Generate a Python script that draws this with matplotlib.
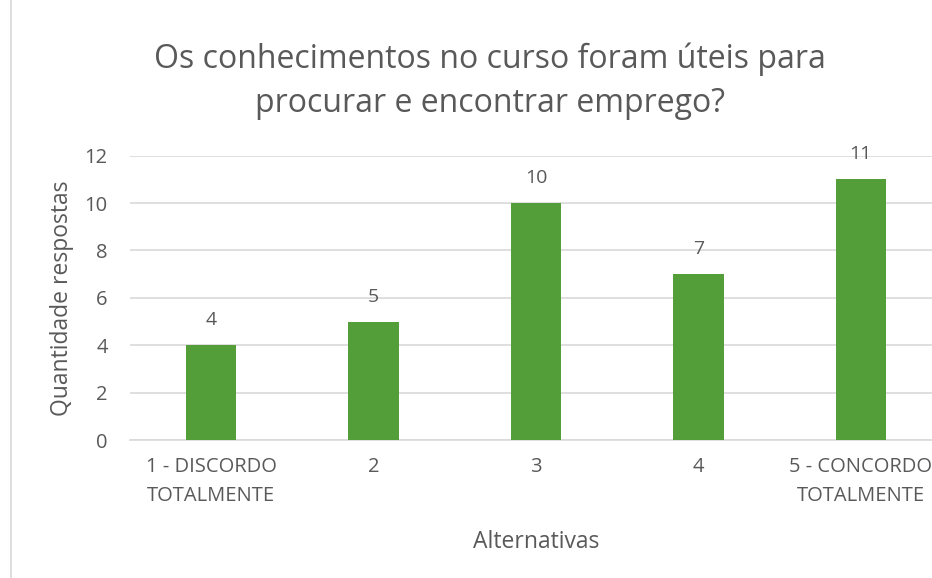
import matplotlib.pyplot as plt
from matplotlib.lines import Line2D

categories = ['1 - DISCORDO\nTOTALMENTE', '2', '3', '4', '5 - CONCORDO\nTOTALMENTE']
respostas = [4, 5, 10, 7, 11]
yticks = [0, 2, 4, 6, 8, 10, 12]

plt.rcParams['font.family'] = ['Open Sans', 'DejaVu Sans']
grey = '#595959'

W, H = 932, 578
fig = plt.figure(figsize=(W / 100, H / 100), dpi=100)
# plot area runs past the right edge, as in the cropped original
ax = fig.add_axes([130 / W, 1 - 440 / H, 812 / W, (440 - 155.7) / H])

x = range(len(categories))
ax.bar(x, respostas, width=0.31, color='#549E39', zorder=3)
for xi, v in zip(x, respostas):
    ax.annotate(str(v), (xi, v), xytext=(0, 18), textcoords='offset points',
                ha='center', va='center', fontsize=14, color=grey)

ax.set_xlim(-0.5, len(categories) - 0.5)
ax.set_ylim(0, 12)
ax.set_yticks(yticks)
ax.set_xticks(list(x))
ax.set_xticklabels(categories, fontsize=14.5, color=grey, linespacing=1.65)
ax.tick_params(axis='y', labelsize=14.5, labelcolor=grey, length=0, pad=16)
ax.tick_params(axis='x', length=0, pad=12)
ax.grid(axis='y', color='#D9D9D9', linewidth=1.2, zorder=0)
for s in ['top', 'right', 'left']:
    ax.spines[s].set_visible(False)
ax.spines['bottom'].set_color('#D9D9D9')
ax.spines['bottom'].set_linewidth(1.2)

ax.set_ylabel('Quantidade respostas', fontsize=16.5, color=grey, va='center')
ax.yaxis.set_label_coords((62 - 130) / 812, 0.5)
ax.set_xlabel('Alternativas', fontsize=16.5, color=grey, va='center')
ax.xaxis.set_label_coords((536 - 130) / 812, (440 - 542) / (440 - 155.7))
fig.text(490 / W, 1 - 81 / H, 'Os conhecimentos no curso foram úteis para\nprocurar e encontrar emprego?',
         ha='center', va='center', fontsize=23, color=grey, linespacing=1.45)

fig.add_artist(Line2D([11 / W, 11 / W], [0, 1], color='#D9D9D9', linewidth=1.2))

fig.savefig('out.png', dpi=100)
